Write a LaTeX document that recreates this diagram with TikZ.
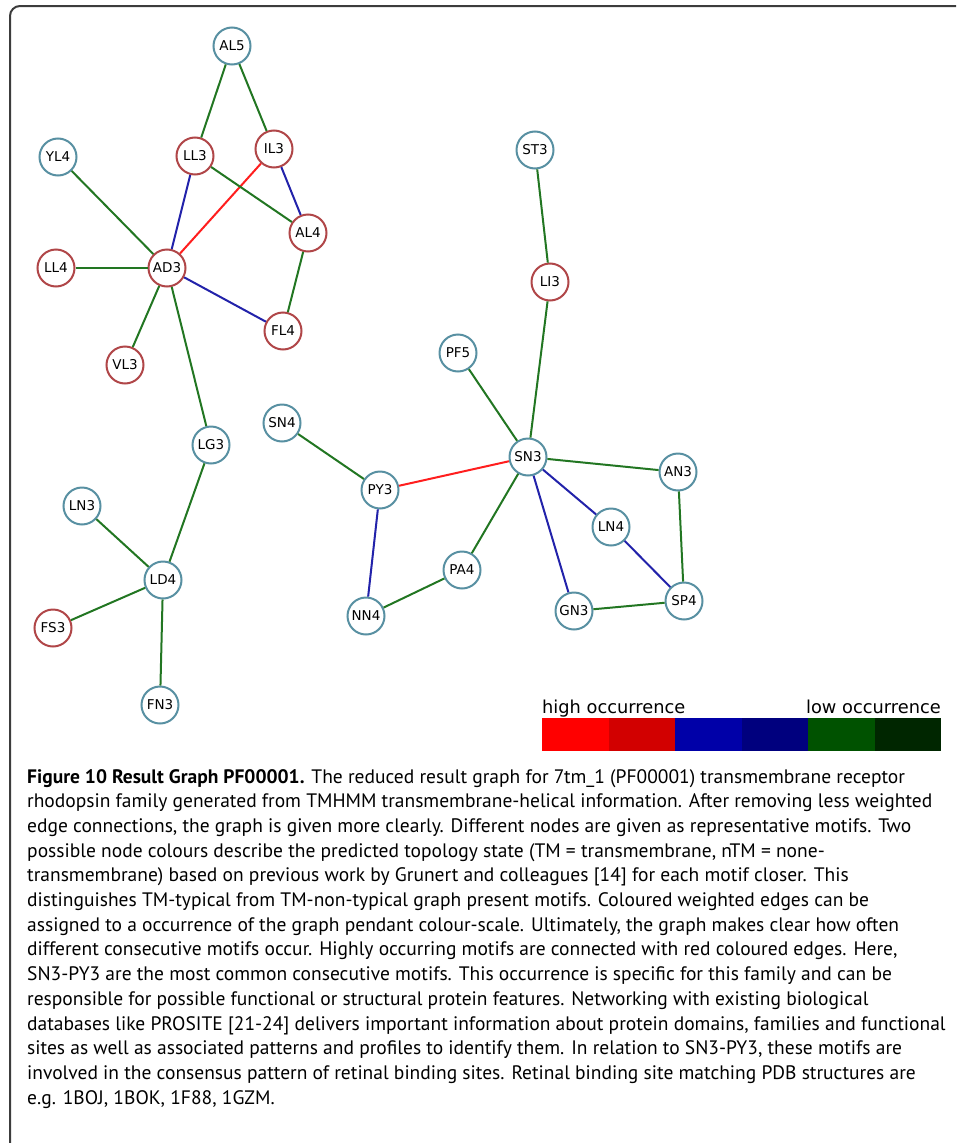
\documentclass[tikz,border=0pt]{standalone}
\usepackage{fontspec}
\setmainfont{DejaVu Sans}
\newfontfamily\capfont{PT Sans}
\usetikzlibrary{positioning}
\definecolor{tmred}{RGB}{176, 70, 72}
\definecolor{ntmteal}{RGB}{88, 144, 162}
\definecolor{egreen}{RGB}{34, 118, 34}
\definecolor{eblue}{RGB}{34, 34, 170}
\definecolor{ered}{RGB}{255, 30, 30}
\definecolor{frame}{RGB}{60, 60, 60}
\definecolor{occA}{RGB}{255, 0, 0}
\definecolor{occB}{RGB}{210, 0, 0}
\definecolor{occC}{RGB}{0, 0, 168}
\definecolor{occD}{RGB}{0, 0, 126}
\definecolor{occE}{RGB}{0, 82, 0}
\definecolor{occF}{RGB}{0, 38, 0}

\begin{document}
\begin{tikzpicture}[x=1pt, y=-1pt,
    motif/.style={circle, draw, fill=white, line width=2pt, minimum size=37pt, inner sep=0pt, font=\fontsize{13.5}{15}\selectfont},
    tm/.style={motif, draw=tmred},
    ntm/.style={motif, draw=ntmteal},
    lo/.style={draw=egreen, line width=2pt},
    mid/.style={draw=eblue, line width=2pt},
    hi/.style={draw=ered, line width=2pt}]
                \useasboundingbox (0,0) rectangle (956,1143);
                \draw[frame, line width=2pt, rounded corners=10pt] (10,1143) -- (10,6) -- (956,6);

                \node[ntm] (al5) at (232,46) {AL5};
                \node[tm] (ll3) at (195,156) {LL3};
                \node[tm] (il3) at (274,149) {IL3};
                \node[ntm] (yl4) at (58,157) {YL4};
                \node[tm] (al4) at (308,233) {AL4};
                \node[tm] (ll4) at (56,268) {LL4};
                \node[tm] (ad3) at (167,268) {AD3};
                \node[tm] (fl4) at (283,331) {FL4};
                \node[tm] (vl3) at (125,365) {VL3};
                \node[ntm] (lg3) at (211,445) {LG3};
                \node[ntm] (ln3) at (82,506) {LN3};
                \node[ntm] (ld4) at (163,580) {LD4};
                \node[tm] (fs3) at (53,628) {FS3};
                \node[ntm] (fn3) at (160,705) {FN3};

                \node[ntm] (st3) at (535,150) {ST3};
                \node[tm] (li3) at (550,282) {LI3};
                \node[ntm] (pf5) at (458,353) {PF5};
                \node[ntm] (sn4) at (282,423) {SN4};
                \node[ntm] (sn3) at (528,457) {SN3};
                \node[ntm] (an3) at (678,472) {AN3};
                \node[ntm] (py3) at (380,490) {PY3};
                \node[ntm] (ln4) at (611,527) {LN4};
                \node[ntm] (pa4) at (462,570) {PA4};
                \node[ntm] (sp4) at (684,601) {SP4};
                \node[ntm] (gn3) at (574,611) {GN3};
                \node[ntm] (nn4) at (366,616) {NN4};

                \draw[lo] (al5) -- (ll3);
                \draw[lo] (al5) -- (il3);
                \draw[mid] (ll3) -- (ad3);
                \draw[hi] (il3) -- (ad3);
                \draw[lo] (ll3) -- (al4);
                \draw[mid] (il3) -- (al4);
                \draw[lo] (al4) -- (fl4);
                \draw[mid] (ad3) -- (fl4);
                \draw[lo] (yl4) -- (ad3);
                \draw[lo] (ll4) -- (ad3);
                \draw[lo] (ad3) -- (vl3);
                \draw[lo] (ad3) -- (lg3);
                \draw[lo] (lg3) -- (ld4);
                \draw[lo] (ln3) -- (ld4);
                \draw[lo] (fs3) -- (ld4);
                \draw[lo] (ld4) -- (fn3);

                \draw[lo] (st3) -- (li3);
                \draw[lo] (li3) -- (sn3);
                \draw[lo] (pf5) -- (sn3);
                \draw[lo] (sn3) -- (an3);
                \draw[hi] (sn3) -- (py3);
                \draw[lo] (sn4) -- (py3);
                \draw[mid] (py3) -- (nn4);
                \draw[lo] (nn4) -- (pa4);
                \draw[lo] (pa4) -- (sn3);
                \draw[mid] (sn3) -- (gn3);
                \draw[mid] (sn3) -- (ln4);
                \draw[mid] (ln4) -- (sp4);
                \draw[lo] (an3) -- (sp4);
                \draw[lo] (gn3) -- (sp4);

                \node[anchor=base west, inner sep=0pt, font=\fontsize{17.8}{20}\selectfont] (high) at (542,713) {high occurrence};
                \node[anchor=base east, inner sep=0pt, font=\fontsize{17.8}{20}\selectfont] (low) at (941,713) {low occurrence};
                \foreach \c [count=\i from 0] in {occA, occB, occC, occD, occE, occF}
                    \fill[\c] (542+66.5*\i,718) rectangle ++(66.5,33);

                \foreach \ln [count=\i from 0] in {
                    {\textbf{Figure 10 Result Graph PF00001.} The reduced result graph for 7tm\_1 (PF00001) transmembrane receptor},
                    {rhodopsin family generated from TMHMM transmembrane-helical information. After removing less weighted},
                    {edge connections, the graph is given more clearly. Different nodes are given as representative motifs. Two},
                    {possible node colours describe the predicted topology state (TM = transmembrane, nTM = none-},
                    {transmembrane) based on previous work by Grunert and colleagues [14] for each motif closer. This},
                    {distinguishes TM-typical from TM-non-typical graph present motifs. Coloured weighted edges can be},
                    {assigned to a occurrence of the graph pendant colour-scale. Ultimately, the graph makes clear how often},
                    {different consecutive motifs occur. Highly occurring motifs are connected with red coloured edges. Here,},
                    {SN3-PY3 are the most common consecutive motifs. This occurrence is specific for this family and can be},
                    {responsible for possible functional or structural protein features. Networking with existing biological},
                    {databases like PROSITE [21-24] delivers important information about protein domains, families and functional},
                    {sites as well as associated patterns and profiles to identify them. In relation to SN3-PY3, these motifs are},
                    {involved in the consensus pattern of retinal binding sites. Retinal binding site matching PDB structures are},
                    {e.g. 1BOJ, 1BOK, 1F88, 1GZM.}}
                    \node[anchor=base west, inner sep=0pt, font=\capfont\fontsize{19.5}{22}\selectfont] (cap\i) at (27,783+24.7*\i) {\ln};
            \end{tikzpicture}
\end{document}
